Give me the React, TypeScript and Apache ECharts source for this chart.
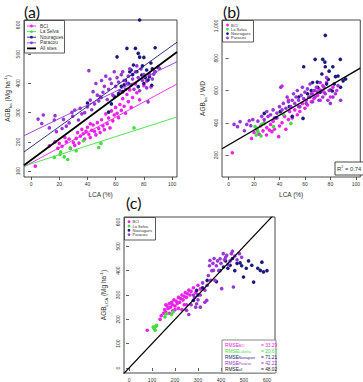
import React, { useEffect, useRef } from "react";
import * as echarts from "echarts";

// ---- sites ----
const siteNames = ["BCI", "La Selva", "Nouragues", "Paracou"];
const siteColors = ["#ee22ee", "#44dd44", "#1b1b7d", "#9a35d6"];

// ---- panel (a): AGB (Mg/ha) vs LCA (%) ----
const bciA = [
  [3, 117], [13, 187], [17, 200], [19, 178], [20, 195], [22, 185], [24, 215], [25, 200], [27, 210], [28, 178],
  [30, 198], [31, 188], [32, 212], [33, 232], [34, 196], [35, 220], [36, 243], [37, 228], [38, 210], [39, 236],
  [40, 250], [41, 226], [42, 215], [43, 240], [44, 258], [45, 236], [46, 224], [47, 266], [48, 246], [49, 232],
  [50, 276], [51, 255], [52, 242], [53, 296], [54, 262], [55, 282], [56, 248], [57, 306], [58, 272], [59, 292],
  [60, 318], [61, 298], [62, 283], [63, 328], [64, 308], [65, 348], [66, 322], [67, 298], [68, 362], [69, 338],
  [70, 378], [71, 318], [72, 352], [74, 398], [75, 368], [77, 344], [80, 392], [82, 408], [85, 388], [42, 262],
];
const laSelvaA = [
  [16.5, 147], [21, 166], [20.5, 157], [23.5, 149], [26, 140], [27.7, 179], [32, 170], [37, 204], [48, 181],
  [49.6, 195], [73, 248],
];
const nouraguesA = [
  [40, 333], [49.6, 352], [55, 302], [57, 330], [59, 355], [61, 491], [62, 365], [64, 390], [65, 372], [66, 395],
  [67, 410], [68, 520], [69, 400], [70, 440], [71, 446], [72, 430], [72.6, 463], [74, 520], [75, 440], [76, 503],
  [76, 389], [77, 617], [77, 490], [78.5, 429], [79, 460], [80, 489], [80, 400], [81, 420], [82, 446], [83, 412],
  [84, 423], [85, 470], [85.6, 394], [86, 450], [88, 522], [88, 440], [90, 455],
];
const paracouA = [
  [5, 278], [7.6, 263], [8.7, 292], [13, 248], [16.5, 275], [17, 290], [18, 235], [22, 246], [23, 277], [25, 254],
  [27, 265], [29, 301], [29.5, 288], [31, 309], [33.6, 275], [34.8, 315], [36, 296], [38, 300], [40, 320], [41, 444],
  [42, 343], [43, 310], [44, 372], [45, 330], [46, 400], [47, 360], [48, 340], [49, 355], [50, 410], [51, 370],
  [52, 390], [53, 425], [54, 345], [55, 380], [56, 415], [57, 400], [58, 360], [59, 440], [60, 390], [61, 420],
  [62, 405], [63, 375], [64, 430], [65, 440], [66, 410], [67, 380], [68, 400], [69, 425], [70, 450], [71, 395],
  [72, 415], [73, 380], [74, 440], [75, 460], [76, 420], [77, 375], [78, 450], [79, 410], [80, 430], [82, 385],
  [83, 337], [84, 430], [86, 415], [87, 432], [88, 440], [91, 452],
];
// regression fits [intercept, slope] per site, then all sites
const fitsA = [[128, 2.61], [125, 1.55], [183, 3.46], [233, 2.33]];
const fitAllA = [138, 3.57];

// ---- panel (b): AGB / WD vs LCA (%) ----
const bciB = [
  [2.9, 214], [18, 303], [20, 340], [22, 360], [24, 330], [25, 380], [27, 350], [28, 400], [29.8, 324], [30, 370],
  [32, 355], [33, 390], [34, 345], [35, 410], [36, 360], [38, 430], [39.4, 314], [40, 380], [42, 400], [44, 440],
  [45, 360], [47, 420], [48, 470], [50, 430], [52, 480], [54, 450], [55, 500], [56, 470], [58, 520], [60, 490],
  [61, 540], [62, 510], [64, 560], [65, 530], [66, 580], [67, 550], [68, 600], [70, 570], [71, 610], [72, 540],
  [74, 630], [75, 590], [77, 650], [80, 560], [82, 620], [85, 600], [42, 628], [47, 541],
];
const laSelvaB = [
  [20.8, 376], [21.7, 324], [22.5, 365], [23, 345], [25.5, 318], [26, 390], [28, 395], [35.3, 376], [43, 452],
  [49, 396],
];
const nouraguesB = [
  [28, 458], [37, 431], [40.6, 469], [47.7, 500], [50, 440], [55, 560], [58.5, 427], [59, 747], [62, 580], [65, 600],
  [66, 650], [68, 793], [69.7, 652], [70, 620], [72, 590], [73.3, 702], [74, 793], [75.7, 776], [76, 942], [76, 747],
  [77, 640], [78.3, 669], [79, 720], [80, 603], [81.6, 597], [81.9, 747], [83, 640], [84, 686], [86, 690], [87.8, 793],
  [88, 620], [90, 660], [92, 671],
];
const paracouB = [
  [4.3, 390], [7, 376], [9, 407], [12.4, 351], [14.3, 390], [16.2, 413], [17.4, 382], [19, 420], [23, 410], [26, 440],
  [28, 420], [30, 470], [31, 440], [33, 450], [35, 480], [36, 430], [38, 460], [40, 500], [41, 620], [42, 480],
  [43, 520], [45, 490], [46, 560], [47, 530], [49, 500], [50, 540], [51, 580], [52, 520], [53, 560], [54, 600],
  [55, 540], [56, 500], [57, 570], [58, 620], [59, 550], [60, 590], [61, 520], [62, 610], [63, 560], [64, 640],
  [65, 580], [66, 530], [67, 600], [68, 560], [69, 620], [70, 590], [71, 540], [72, 650], [73, 600], [74, 560],
  [75, 620], [76, 580], [77, 680], [78, 540], [79, 600], [80, 520], [82, 560], [84, 580], [86, 630], [88, 540],
];
const fitB = [263, 4.6];
const r2Value = "0.74";

// ---- panel (c): AGB predicted from LCA vs observed AGB ----
const bciC = [
  [79, 155], [135, 200], [140, 215], [150, 225], [155, 240], [160, 230], [165, 255], [170, 245], [175, 265], [180, 250],
  [185, 270], [190, 260], [195, 280], [200, 255], [205, 275], [210, 265], [215, 290], [220, 270], [225, 285], [230, 300],
  [235, 280], [240, 295], [245, 310], [250, 290], [255, 305], [260, 320], [265, 300], [270, 315], [280, 330], [290, 310],
  [300, 340], [310, 325], [200, 240], [190, 235], [230, 240], [250, 260], [175, 225], [160, 260], [215, 245], [240, 260],
];
const laSelvaC = [
  [105, 168], [109, 162], [114, 155], [116, 171], [120, 175], [156, 210], [163, 223], [185, 220], [192, 230],
];
const nouraguesC = [
  [280, 278], [294, 319], [300, 300], [320, 330], [340, 360], [380, 355], [395, 400], [411, 415], [420, 440], [430, 410],
  [440, 422], [450, 450], [460, 400], [470, 430], [483, 432], [490, 420], [498, 374], [510, 410], [520, 440], [534, 422],
  [542, 353], [560, 410], [571, 401], [578, 435], [585, 395], [600, 400],
];
const paracouC = [
  [250, 237], [270, 260], [285, 290], [294, 264], [300, 280], [310, 300], [320, 350], [330, 320], [338, 278], [340, 340],
  [345, 380], [350, 420], [352, 442], [355, 360], [360, 400], [365, 430], [367, 401], [370, 450], [374, 360], [380, 420],
  [385, 440], [390, 400], [396, 449], [400, 430], [403, 326], [410, 470], [415, 445], [420, 455], [425, 463], [430, 425],
  [440, 440], [445, 470], [450, 480], [454, 333], [460, 460], [470, 445], [480, 470], [490, 455], [310, 250], [280, 300],
  [260, 220], [290, 250], [330, 270],
];
const rmseKeys = ["BCI", "LaSelva", "Nouragues", "Paracou", "all"];
const rmseValues = [33.29, 20.67, 71.21, 42.22, 48.02];

// ---- tick values ----
const xTicksAB = [0, 20, 40, 60, 80, 100];
const yTicksA = [100, 200, 300, 400, 500, 600];
const yTicksB = [200, 400, 600, 800, 1000];
const ticksC = [0, 100, 200, 300, 400, 500, 600];

const FONT = "'Liberation Sans', Arial, sans-serif";
const INK = "#333";

// axis ranges (R-style padded)
const rangeA = { x: [-5, 103.5], y: [80, 617] };
const rangeB = { x: [-5.2, 103.5], y: [64, 1037] };
const rangeC = { x: [-22, 635], y: [-20.5, 620.5] };

function valueAxis(gridIndex: number, range: number[], ticks: number[], isY: boolean, extra: any = {}) {
  return {
    type: "value",
    gridIndex,
    min: range[0],
    max: range[1],
    splitLine: { show: false },
    axisLine: { show: false },
    axisTick: { show: true, length: 3, customValues: ticks, lineStyle: { color: INK, width: 0.8 } },
    axisLabel: {
      customValues: ticks,
      fontSize: 5,
      color: INK,
      fontFamily: FONT,
      margin: 4,
      rotate: isY ? 90 : 0,
    },
    ...extra,
  };
}

const titleRich = {
  t: { fontSize: 6.5, lineHeight: 9, color: INK, fontFamily: FONT, verticalAlign: "middle" },
  s: { fontSize: 4.4, lineHeight: 9, color: INK, fontFamily: FONT, verticalAlign: "bottom" },
  p: { fontSize: 4.4, lineHeight: 9, color: INK, fontFamily: FONT, verticalAlign: "top" },
};

function scatter(name: string, data: number[][], color: string, axis: number) {
  return {
    type: "scatter",
    name,
    data,
    xAxisIndex: axis,
    yAxisIndex: axis,
    symbol: "circle",
    symbolSize: 3.6,
    itemStyle: { color, opacity: 1 },
    silent: true,
    z: 3,
  };
}

function fitLine(coef: number[], xr: number[], color: string, width: number, axis: number) {
  const [a, b] = coef;
  return {
    type: "line",
    data: xr.map((x) => [x, a + b * x]),
    xAxisIndex: axis,
    yAxisIndex: axis,
    symbol: "none",
    showSymbol: false,
    lineStyle: { color, width },
    clip: true,
    silent: true,
    z: 4,
  };
}

function legend(box: number[], rowY: number[], symX: number, textX: number, withLines: boolean, fontSize: number) {
  const [x, y, w, h] = box;
  const els: any[] = [
    { type: "rect", shape: { x, y, width: w, height: h }, style: { fill: "#fff", stroke: INK, lineWidth: 0.8 }, z: 10 },
  ];
  const txt = (label: string, cy: number) => ({
    type: "text",
    x: textX,
    y: cy,
    style: { text: label, fontSize, lineHeight: fontSize, fontFamily: FONT, fill: INK, verticalAlign: "middle" },
    z: 11,
  });
  siteNames.forEach((name, i) => {
    const cy = rowY[i];
    if (withLines) {
      els.push({ type: "line", shape: { x1: symX - 4.5, y1: cy, x2: symX + 4.5, y2: cy }, style: { stroke: siteColors[i], lineWidth: 0.9 }, z: 11 });
    }
    els.push({ type: "circle", shape: { cx: symX, cy, r: 1.4 }, style: { fill: siteColors[i] }, z: 11 });
    els.push(txt(name, cy));
  });
  if (withLines && rowY.length > 4) {
    const cy = rowY[4];
    els.push({ type: "line", shape: { x1: symX - 4.5, y1: cy, x2: symX + 4.5, y2: cy }, style: { stroke: "#000", lineWidth: 1.8 }, z: 11 });
    els.push(txt("All sites", cy));
  }
  return els;
}

function rmseBox() {
  const colors = [...siteColors, "#222"];
  const els: any[] = [
    { type: "rect", shape: { x: 222, y: 340, width: 54, height: 33 }, style: { fill: "#fff", stroke: "#888", lineWidth: 1 }, z: 10 },
  ];
  rmseKeys.forEach((k, i) => {
    const cy = 345 + i * 6;
    els.push({
      type: "text",
      x: 225,
      y: cy,
      style: {
        text: `{m|RMSE}{s|${k}}`,
        verticalAlign: "middle",
        rich: {
          m: { fontSize: 4.8, fontFamily: FONT, fill: colors[i], color: colors[i], lineHeight: 5.5, verticalAlign: "middle" },
          s: { fontSize: 3.3, fontFamily: FONT, fill: colors[i], color: colors[i], lineHeight: 5.5, verticalAlign: "bottom" },
        },
      },
      z: 11,
    });
    els.push({
      type: "text",
      x: 261,
      y: cy,
      style: { text: `= ${rmseValues[i].toFixed(2)}`, fontSize: 4.8, lineHeight: 5.5, fontFamily: FONT, fill: colors[i], verticalAlign: "middle" },
      z: 11,
    });
  });
  return els;
}

function buildOption() {
  const series: any[] = [];
  const setsA = [bciA, laSelvaA, nouraguesA, paracouA];
  const setsB = [bciB, laSelvaB, nouraguesB, paracouB];
  const setsC = [bciC, laSelvaC, nouraguesC, paracouC];
  setsA.forEach((d, i) => series.push(scatter(siteNames[i], d, siteColors[i], 0)));
  fitsA.forEach((c, i) => series.push(fitLine(c, rangeA.x, siteColors[i], 0.9, 0)));
  series.push(fitLine(fitAllA, rangeA.x, "#000", 1.8, 0));
  setsB.forEach((d, i) => series.push(scatter(siteNames[i], d, siteColors[i], 1)));
  series.push(fitLine(fitB, rangeB.x, "#000", 1.4, 1));
  setsC.forEach((d, i) => series.push(scatter(siteNames[i], d, siteColors[i], 2)));
  series.push(fitLine([0, 1], [-40, 700], "#000", 1.2, 2));

  const gridStyle = { show: true, borderColor: INK, borderWidth: 0.9, backgroundColor: "transparent", containLabel: false };
  const titleFont = "Lato, 'Open Sans', sans-serif";

  return {
    animation: false,
    backgroundColor: "#fff",
    grid: [
      { left: 24, top: 20, width: 153, height: 157, ...gridStyle },
      { left: 222, top: 20, width: 153, height: 157, ...gridStyle },
      { left: 124, top: 217, width: 151, height: 156, ...gridStyle },
    ],
    xAxis: [
      valueAxis(0, rangeA.x, xTicksAB, false, {
        name: "LCA (%)", nameLocation: "middle", nameGap: 14,
        nameTextStyle: { fontSize: 6.5, color: INK, fontFamily: FONT },
      }),
      valueAxis(1, rangeB.x, xTicksAB, false, {
        name: "LCA (%)", nameLocation: "middle", nameGap: 14,
        nameTextStyle: { fontSize: 6.5, color: INK, fontFamily: FONT },
      }),
      valueAxis(2, rangeC.x, ticksC, false),
    ],
    yAxis: [
      valueAxis(0, rangeA.y, yTicksA, true, {
        name: "{t|AGB}{s|ha}{t| (Mg ha}{p|-1}{t|)}", nameLocation: "middle", nameGap: 12, nameRotate: 90,
        nameTextStyle: { rich: titleRich },
      }),
      valueAxis(1, rangeB.y, yTicksB, true, {
        name: "{t|AGB}{s|ha}{t| / WD}", nameLocation: "middle", nameGap: 15, nameRotate: 90,
        nameTextStyle: { rich: titleRich },
      }),
      valueAxis(2, rangeC.y, ticksC, true, {
        name: "{t|AGB}{s|LCA}{t| (Mg ha}{p|-1}{t|)}", nameLocation: "middle", nameGap: 16, nameRotate: 90,
        nameTextStyle: { rich: titleRich },
      }),
    ],
    series,
    graphic: [
      { type: "text", x: 24, y: 3, style: { text: "(a)", fontSize: 16, fontFamily: titleFont, fill: "#111" }, z: 12 },
      { type: "text", x: 223, y: 3, style: { text: "(b)", fontSize: 16, fontFamily: titleFont, fill: "#111" }, z: 12 },
      { type: "text", x: 126, y: 194, style: { text: "(c)", fontSize: 16, fontFamily: titleFont, fill: "#111" }, z: 12 },
      ...legend([24.5, 20.5, 40, 32.5], [26, 31.6, 37.2, 42.8, 48.4], 31.5, 40, true, 4.8),
      ...legend([222.5, 20.5, 31, 21.5], [25, 29.3, 33.6, 37.9], 227.5, 231, false, 4),
      ...legend([124.5, 217.5, 31, 22.5], [221.7, 226, 230.3, 234.6], 129, 132.5, false, 4),
      ...rmseBox(),
      { type: "rect", shape: { x: 335, y: 162, width: 60, height: 13 }, style: { fill: "#fff", stroke: INK, lineWidth: 0.9 }, z: 10 },
      {
        type: "text", x: 337, y: 168.5,
        style: {
          text: `{t|R}{p|2}{t| = ${r2Value}}`, verticalAlign: "middle",
          rich: {
            t: { fontSize: 5.8, fontFamily: FONT, fill: INK, color: INK, lineHeight: 8, verticalAlign: "middle" },
            p: { fontSize: 3.8, fontFamily: FONT, fill: INK, color: INK, lineHeight: 8, verticalAlign: "top" },
          },
        },
        z: 11,
      },
    ],
  };
}

export default function App() {
  const ref = useRef<HTMLDivElement>(null);
  useEffect(() => {
    if (!ref.current) return;
    const chart = echarts.init(ref.current, null, { renderer: "svg" });
    chart.setOption(buildOption() as any);
    return () => chart.dispose();
  }, []);
  return (
    <div
      ref={ref}
      style={{ position: "fixed", left: 0, top: 0, width: 363, height: 382, background: "#fff" }}
    />
  );
}
